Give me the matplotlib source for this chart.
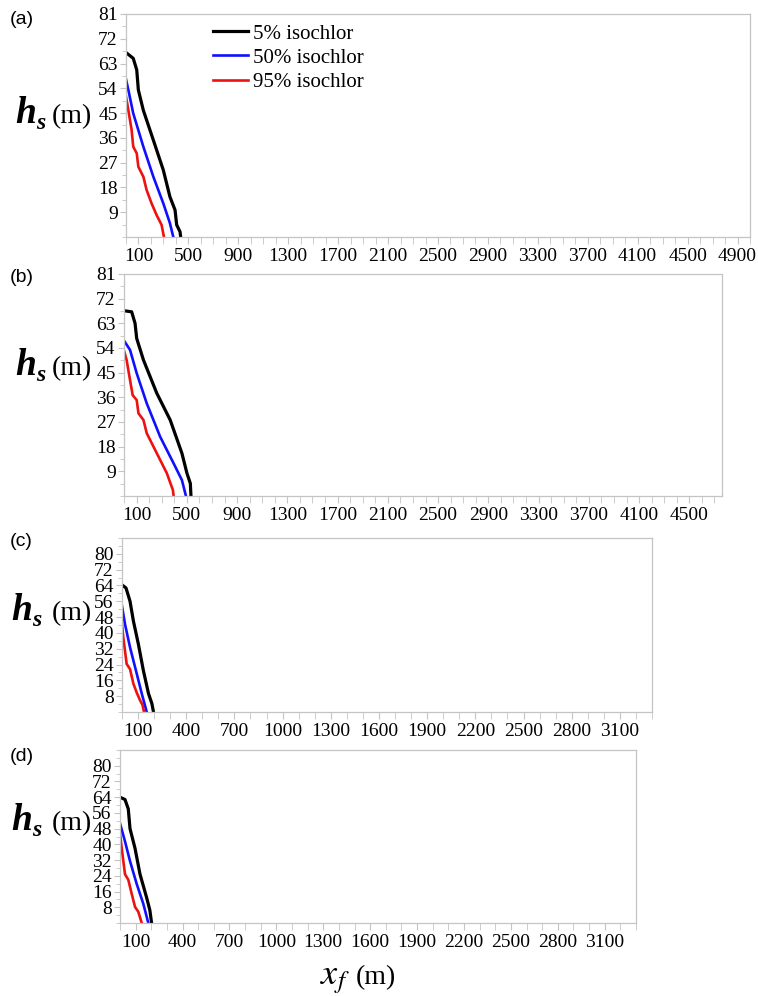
import matplotlib.pyplot as plt
from matplotlib.ticker import MultipleLocator, FixedLocator

plt.rcParams['font.family'] = ['Liberation Serif', 'DejaVu Serif']
plt.rcParams['mathtext.fontset'] = 'stix'

W, H = 758, 996

# (a) isochlor toe positions x_f (m) vs height h_s (m)
a_5_x = [0, 58, 86, 99, 139, 219, 299, 352, 393, 406, 433, 438]
a_5_y = [67, 64.9, 60.7, 53.4, 46, 35.2, 24.3, 14.6, 9.8, 4.4, 1.9, 0]
a_50_x = [0, 19, 58, 139, 219, 299, 352, 379]
a_50_y = [57.3, 53.4, 44.9, 32.8, 21.9, 12.2, 5, 0]
a_95_x = [0, 19, 45, 58, 86, 99, 139, 165, 205, 245, 285, 304]
a_95_y = [51, 46, 38.9, 32.8, 30.4, 25.5, 21.9, 17.1, 12.2, 8, 4.4, 0]

# (b)
b_5_x = [0, 61, 88, 101, 155, 261, 368, 461, 501, 528, 533]
b_5_y = [67.6, 67.2, 63, 57.5, 49.6, 37.5, 27.7, 15.6, 8.3, 4.6, 0]
b_50_x = [0, 48, 101, 181, 288, 395, 461, 493]
b_50_y = [56.7, 53.3, 44.8, 33.8, 21.6, 11.9, 5.8, 0]
b_95_x = [0, 21, 48, 69, 101, 115, 155, 181, 261, 341, 389, 395]
b_95_y = [53, 49.6, 42.3, 36.8, 35, 30.2, 27.7, 22.9, 15.6, 8.3, 2.2, 0]

# (c)
c_5_x = [0, 25, 50, 71, 102, 133, 165, 186, 196]
c_5_y = [64.3, 62.7, 56, 46, 34.3, 21, 9.3, 4.3, 0]
c_50_x = [0, 19, 50, 92, 123, 154]
c_50_y = [53.5, 44.3, 32.7, 19.3, 9.3, 0]
c_95_x = [0, 8, 29, 50, 71, 92, 112, 128, 137]
c_95_y = [44.3, 37.7, 24.3, 21.7, 14.3, 9.7, 6, 3.5, 0]

# (d)
d_5_x = [0, 32, 53, 64, 96, 128, 170, 191, 202]
d_5_y = [64, 62.8, 58, 48, 38, 24.8, 13, 6.5, 0]
d_50_x = [0, 32, 64, 107, 149, 181]
d_50_y = [50.7, 41.5, 31.5, 19.8, 9.8, 0]
d_95_x = [0, 11, 32, 53, 75, 96, 117, 139]
d_95_y = [45.7, 38, 24.8, 22, 14.8, 8.2, 5.7, 0]

panels = [
    ("(a)", [(a_5_x, a_5_y), (a_50_x, a_50_y), (a_95_x, a_95_y)], 5000, 81, 9, list(range(100, 5000, 400))),
    ("(b)", [(b_5_x, b_5_y), (b_50_x, b_50_y), (b_95_x, b_95_y)], 4760, 81, 9, list(range(100, 4700, 400))),
    ("(c)", [(c_5_x, c_5_y), (c_50_x, c_50_y), (c_95_x, c_95_y)], 3300, 88, 8, list(range(100, 3200, 300))),
    ("(d)", [(d_5_x, d_5_y), (d_50_x, d_50_y), (d_95_x, d_95_y)], 3300, 88, 8, list(range(100, 3200, 300))),
]

# axes boxes in pixels: left, right, top, bottom
boxes = [(126, 750, 14, 237), (124, 722, 274, 496), (122, 652, 538, 712), (120, 636, 750, 923)]
tag_y = [19, 277, 542, 756]
lab_base = [123, 375, 620, 830]
lab_x = [15, 15, 11, 11]

names = ["5% isochlor", "50% isochlor", "95% isochlor"]
colors = ["black", "#1010ff", "#ee1111"]
widths = [2.3, 1.9, 1.9]

fig = plt.figure(figsize=(W / 100, H / 100), dpi=100)
grey = "#c4c4c4"

for i, (tag, curves, xmax, ymax, ystep, xt) in enumerate(panels):
    l, r, t, b = boxes[i]
    ax = fig.add_axes([l / W, 1 - b / H, (r - l) / W, (b - t) / H])
    for (xs, ys), c, lw, nm in zip(curves, colors, widths, names):
        ax.plot(xs, ys, color=c, lw=lw, label=nm, solid_joinstyle="round")
    ax.set_xlim(0, xmax)
    ax.set_ylim(0, ymax)
    ax.xaxis.set_major_locator(FixedLocator(xt))
    ax.xaxis.set_minor_locator(MultipleLocator(100))
    ax.set_yticks(list(range(ystep, 82, ystep)))
    ax.yaxis.set_minor_locator(MultipleLocator(ystep / 2))
    for s in ax.spines.values():
        s.set_color(grey)
        s.set_linewidth(0.9)
    ax.tick_params(which="both", direction="out", color=grey, labelsize=14)
    ax.tick_params(axis="x", which="both", length=5, pad=3)
    ax.tick_params(axis="y", which="major", length=4, pad=2)
    ax.tick_params(axis="y", which="minor", length=3)
    fig.text(10 / W, 1 - tag_y[i] / H, tag, family="Liberation Sans", fontsize=14, va="center")
    y0 = 1 - lab_base[i] / H
    fig.text(lab_x[i] / W, y0, "h", fontsize=27, style="italic", weight="bold", va="baseline")
    fig.text((lab_x[i] + 21) / W, y0 - 6 / H, "s", fontsize=17, style="italic", weight="bold", va="baseline")
    fig.text(52 / W, y0, "(m)", fontsize=20, va="baseline")
    if i == 0:
        ax.legend(loc="upper left", bbox_to_anchor=((213 - l) / (r - l), (b - 24) / (b - t)),
                  frameon=False, fontsize=15, handlelength=1.7, handletextpad=0.2,
                  labelspacing=0.22, borderpad=0, borderaxespad=0)

fig.text(320 / W, 1 - 984 / H, r"$x_f$", fontsize=26, va="baseline")
fig.text(356 / W, 1 - 984 / H, "(m)", fontsize=20, va="baseline")

fig.savefig("out.png", dpi=100)
